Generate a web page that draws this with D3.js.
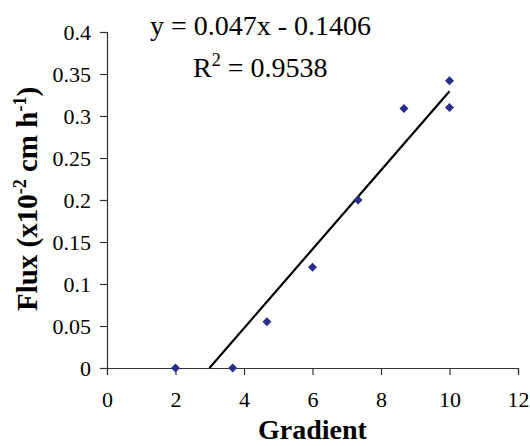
<!DOCTYPE html>
<meta charset="utf-8">
<style>
  body { margin: 0; background: #fff; }
</style>
<body>
<svg id="chart" width="530" height="446"></svg>
<script src="https://cdn.jsdelivr.net/npm/d3@7"></script>
<script>
// measured points
const gradient = [2, 3.67, 4.67, 6, 7.33, 8.67, 10, 10];
const flux = [0, 0, 0.055, 0.12, 0.2, 0.309, 0.31, 0.342];

const xTicks = [0, 2, 4, 6, 8, 10, 12];
const yTicks = [0, 0.05, 0.1, 0.15, 0.2, 0.25, 0.3, 0.35, 0.4];
const yTickLabels = ['0', '0.05', '0.1', '0.15', '0.2', '0.25', '0.3', '0.35', '0.4'];

// linear trendline shown on chart
const slope = 0.047, intercept = -0.1406, r2 = '0.9538';

const FONT = 'Liberation Serif';
const W = 530, H = 446;
const margin = {left: 107, right: 12, top: 32, bottom: 78};
const width = W - margin.left - margin.right;
const height = H - margin.top - margin.bottom;

const svg = d3.select('#chart').attr('font-family', FONT);

const g = svg.append('g')
  .attr('transform', 'translate(' + margin.left + ',' + margin.top + ')');

const x = d3.scaleLinear().domain([0, 12]).range([0, width]);
const y = d3.scaleLinear().domain([0, 0.4]).range([height, 0]);

const xAxis = d3.axisBottom(x).tickValues(xTicks).tickSize(7).tickPadding(16);
const yAxis = d3.axisLeft(y).tickValues(yTicks).tickSize(7).tickPadding(9)
  .tickFormat((d, i) => yTickLabels[i]);

const xg = g.append('g').attr('transform', 'translate(0,' + height + ')').call(xAxis);
const yg = g.append('g').call(yAxis);

[xg, yg].forEach(a => {
  a.attr('font-family', FONT).attr('font-size', 22);
  a.select('.domain').attr('stroke', '#333').attr('stroke-width', 1.2);
  a.selectAll('.tick line').attr('stroke', '#333').attr('stroke-width', 1.2);
  a.selectAll('.tick text').attr('fill', '#000');
});

// trendline from x-intercept to last point
const x0 = -intercept / slope;
const x1 = d3.max(gradient);
g.append('line')
  .attr('x1', x(x0)).attr('y1', y(slope * x0 + intercept))
  .attr('x2', x(x1)).attr('y2', y(slope * x1 + intercept))
  .attr('stroke', '#000').attr('stroke-width', 2.2);

// diamonds
const pts = gradient.map((d, i) => ({gx: d, f: flux[i]}));
g.selectAll('path.pt').data(pts).enter().append('path')
  .attr('class', 'pt')
  .attr('d', d3.symbol().type(d3.symbolDiamond2).size(52))
  .attr('transform', d => 'translate(' + x(d.gx) + ',' + y(d.f) + ')')
  .attr('fill', '#2b2b8a');

// equation
svg.append('text')
  .attr('x', 150).attr('y', 35)
  .attr('font-size', 28)
  .text('y = 0.047x - 0.1406');

const rt = svg.append('text')
  .attr('x', 193).attr('y', 77)
  .attr('font-size', 28);
rt.append('tspan').text('R');
rt.append('tspan').attr('dy', -11).attr('font-size', 18).text('2');
rt.append('tspan').attr('dy', 11).text(' = ' + r2);

// axis titles
svg.append('text')
  .attr('x', margin.left + width / 2).attr('y', 439)
  .attr('text-anchor', 'middle')
  .attr('font-size', 28).attr('font-weight', 'bold')
  .text('Gradient');

const yt = svg.append('text')
  .attr('transform', 'translate(37,199) rotate(-90)')
  .attr('text-anchor', 'middle')
  .attr('font-size', 29).attr('font-weight', 'bold');
yt.append('tspan').text('Flux (x10');
yt.append('tspan').attr('dy', -11).attr('font-size', 18).text('-2');
yt.append('tspan').attr('dy', 11).text(' cm h');
yt.append('tspan').attr('dy', -11).attr('font-size', 18).text('-1');
yt.append('tspan').attr('dy', 11).text(')');
</script>
</body>
